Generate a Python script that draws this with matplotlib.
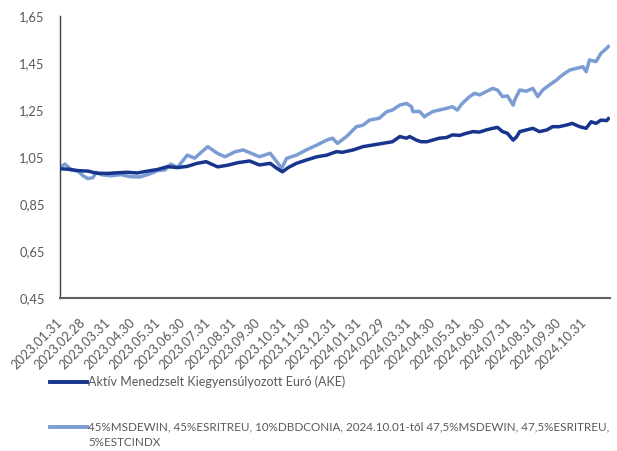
import matplotlib
matplotlib.use("Agg")
import matplotlib.pyplot as plt
from matplotlib.lines import Line2D
import pandas as pd

# ---- data ----
tick_labels = ["2023.01.31", "2023.02.28", "2023.03.31", "2023.04.30", "2023.05.31",
               "2023.06.30", "2023.07.31", "2023.08.31", "2023.09.30", "2023.10.31",
               "2023.11.30", "2023.12.31", "2024.01.31", "2024.02.29", "2024.03.31",
               "2024.04.30", "2024.05.31", "2024.06.30", "2024.07.31", "2024.08.31",
               "2024.09.30", "2024.10.31"]

ake_dates = ["2023-01-31", "2023-02-10", "2023-02-22", "2023-03-06", "2023-03-17", "2023-03-30",
             "2023-04-11", "2023-04-23", "2023-05-05", "2023-05-18", "2023-05-30", "2023-06-11",
             "2023-06-23", "2023-07-05", "2023-07-17", "2023-07-28", "2023-08-11", "2023-08-23",
             "2023-09-05", "2023-09-19", "2023-10-01", "2023-10-14", "2023-10-22", "2023-10-29",
             "2023-11-05", "2023-11-15", "2023-11-27", "2023-12-10", "2023-12-22", "2024-01-03",
             "2024-01-10", "2024-01-23", "2024-02-04", "2024-02-16", "2024-02-28", "2024-03-11",
             "2024-03-20", "2024-03-28", "2024-04-01", "2024-04-09", "2024-04-15", "2024-04-22",
             "2024-04-29", "2024-05-07", "2024-05-16", "2024-05-23", "2024-06-01", "2024-06-09",
             "2024-06-17", "2024-06-25", "2024-07-03", "2024-07-11", "2024-07-17", "2024-07-23",
             "2024-07-29", "2024-08-05", "2024-08-09", "2024-08-13", "2024-08-21", "2024-08-29",
             "2024-09-06", "2024-09-15", "2024-09-22", "2024-09-30", "2024-10-09", "2024-10-16",
             "2024-10-25", "2024-11-02", "2024-11-08", "2024-11-14", "2024-11-20", "2024-11-27",
             "2024-11-29"]
ake_values = [1.000, 0.998, 0.992, 0.990, 0.981, 0.980,
              0.983, 0.985, 0.982, 0.990, 0.997, 1.009,
              1.005, 1.010, 1.023, 1.030, 1.008, 1.015,
              1.026, 1.033, 1.016, 1.023, 1.002, 0.987,
              1.005, 1.023, 1.037, 1.051, 1.058, 1.073,
              1.070, 1.080, 1.094, 1.101, 1.108, 1.115,
              1.137, 1.130, 1.137, 1.122, 1.115, 1.115,
              1.122, 1.130, 1.133, 1.144, 1.142, 1.151,
              1.158, 1.156, 1.165, 1.172, 1.176, 1.158,
              1.151, 1.122, 1.135, 1.158, 1.165, 1.172,
              1.158, 1.165, 1.179, 1.179, 1.186, 1.193,
              1.179, 1.172, 1.200, 1.193, 1.207, 1.205,
              1.213]

bench_dates = ["2023-01-31", "2023-02-06", "2023-02-14", "2023-02-22", "2023-02-28", "2023-03-06",
               "2023-03-12", "2023-03-16", "2023-03-22", "2023-04-03", "2023-04-15", "2023-04-27",
               "2023-05-08", "2023-05-18", "2023-05-30", "2023-06-08", "2023-06-15", "2023-06-23",
               "2023-07-05", "2023-07-14", "2023-07-22", "2023-07-30", "2023-08-11", "2023-08-20",
               "2023-09-01", "2023-09-11", "2023-09-16", "2023-10-01", "2023-10-14", "2023-10-22",
               "2023-10-28", "2023-11-03", "2023-11-15", "2023-11-27", "2023-12-10", "2023-12-22",
               "2023-12-29", "2024-01-04", "2024-01-15", "2024-01-27", "2024-02-04", "2024-02-12",
               "2024-02-24", "2024-03-04", "2024-03-11", "2024-03-20", "2024-03-28", "2024-04-03",
               "2024-04-05", "2024-04-13", "2024-04-19", "2024-04-22", "2024-04-29", "2024-05-07",
               "2024-05-16", "2024-05-23", "2024-05-29", "2024-06-04", "2024-06-13", "2024-06-19",
               "2024-06-25", "2024-07-03", "2024-07-11", "2024-07-17", "2024-07-23", "2024-07-29",
               "2024-08-05", "2024-08-07", "2024-08-13", "2024-08-21", "2024-08-29", "2024-09-04",
               "2024-09-10", "2024-09-18", "2024-09-27", "2024-10-04", "2024-10-13", "2024-10-21",
               "2024-10-29", "2024-11-02", "2024-11-06", "2024-11-14", "2024-11-20", "2024-11-27",
               "2024-11-29"]
bench_values = [1.005, 1.020, 0.995, 0.990, 0.970, 0.958,
                0.962, 0.985, 0.975, 0.970, 0.975, 0.966,
                0.965, 0.975, 0.992, 0.995, 1.020, 1.005,
                1.058, 1.045, 1.070, 1.094, 1.065, 1.051,
                1.072, 1.080, 1.073, 1.051, 1.066, 1.030,
                1.002, 1.044, 1.058, 1.080, 1.101, 1.122,
                1.130, 1.108, 1.137, 1.179, 1.185, 1.207,
                1.215, 1.243, 1.250, 1.271, 1.278, 1.265,
                1.243, 1.244, 1.221, 1.229, 1.243, 1.250,
                1.257, 1.264, 1.250, 1.278, 1.307, 1.321,
                1.314, 1.328, 1.342, 1.335, 1.307, 1.310,
                1.271, 1.293, 1.335, 1.330, 1.342, 1.307,
                1.335, 1.356, 1.378, 1.399, 1.420, 1.427,
                1.434, 1.413, 1.463, 1.456, 1.491, 1.513,
                1.520]

y_ticks = [0.45, 0.65, 0.85, 1.05, 1.25, 1.45, 1.65]

series_names = ["Aktív Menedzselt Kiegyensúlyozott Euró (AKE)",
                "45%MSDEWIN, 45%ESRITREU, 10%DBDCONIA, 2024.10.01-től 47,5%MSDEWIN, 47,5%ESRITREU,",
                "5%ESTCINDX"]

# ---- style ----
DARK = "#17358C"
LIGHT = "#7C9DD4"
TXT = "#595959"
FONT = ["Lato", "DejaVu Sans"]
plt.rcParams["font.family"] = FONT

W, H = 617, 451
fig = plt.figure(figsize=(W / 100, H / 100), dpi=100)
ax = fig.add_axes([60 / W, (H - 298) / H, (610 - 60) / W, (298 - 16) / H])

ax.plot(pd.to_datetime(bench_dates), bench_values, color=LIGHT, lw=2.5,
        solid_joinstyle="round", zorder=2)
ax.plot(pd.to_datetime(ake_dates), ake_values, color=DARK, lw=2.5,
        solid_joinstyle="round", zorder=3)

ax.set_ylim(0.45, 1.65)
ax.set_yticks(y_ticks)
ax.set_yticklabels([f"{v:.2f}".replace(".", ",") for v in y_ticks])
ax.set_xlim(pd.Timestamp("2023-01-31"), pd.Timestamp("2024-12-01"))
tick_pos = pd.to_datetime(tick_labels, format="%Y.%m.%d")
ax.set_xticks(tick_pos)
ax.set_xticklabels(tick_labels, rotation=45, ha="right", va="center",
                   rotation_mode="anchor")
ax.tick_params(axis="x", length=0, pad=16, labelsize=9.3, labelcolor=TXT)
ax.tick_params(axis="y", length=0, pad=11, labelsize=9.3, labelcolor=TXT)

for s in ["top", "right"]:
    ax.spines[s].set_visible(False)
ax.spines["left"].set_color("#404040")
ax.spines["left"].set_linewidth(1.0)
ax.spines["bottom"].set_color("#606060")
ax.spines["bottom"].set_linewidth(1.5)

# ---- legend (drawn in figure coordinates) ----
def fx(px):
    return px / W

def fy(py):
    return 1 - py / H

fig.add_artist(Line2D([fx(50), fx(87)], [fy(382), fy(382)], color=DARK, lw=2.8))
fig.text(fx(88), fy(382), series_names[0], color=TXT, fontsize=9, va="center", ha="left")
fig.add_artist(Line2D([fx(50), fx(87)], [fy(427), fy(427)], color=LIGHT, lw=2.8))
fig.text(fx(88), fy(427), series_names[1], color=TXT, fontsize=8.4, va="center", ha="left")
fig.text(fx(88), fy(443), series_names[2], color=TXT, fontsize=8.4, va="center", ha="left")

fig.savefig("out.png", dpi=100)
